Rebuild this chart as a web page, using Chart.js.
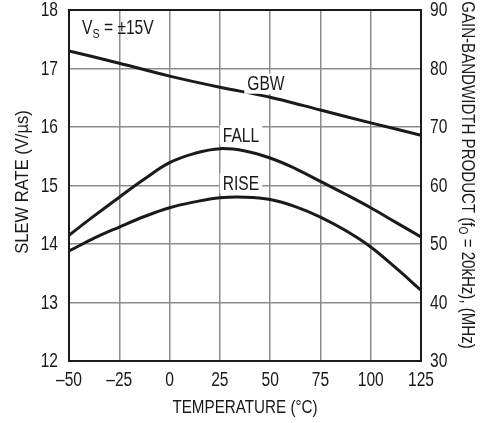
<!DOCTYPE html>
<html>
<head>
<meta charset="utf-8">
<script src="https://cdn.jsdelivr.net/npm/chart.js@4/dist/chart.umd.min.js"></script>
<style>
  html, body { margin: 0; padding: 0; background: #fff; }
  #wrap { width: 492px; height: 423px; }
</style>
</head>
<body>
<div id="wrap"><canvas id="slewChart" width="492" height="423"></canvas></div>
<script>
// temperature (°C)
const temps = [-50, -37.5, -25, -12.5, 0, 12.5, 25, 37.5, 50, 62.5, 75, 87.5, 100, 112.5, 125];
// slew rate, V/µs
const fallRate = [14.15, 14.48, 14.80, 15.11, 15.39, 15.55, 15.63, 15.59, 15.47, 15.29, 15.07, 14.85, 14.62, 14.37, 14.12];
const riseRate = [13.88, 14.10, 14.29, 14.47, 14.62, 14.72, 14.79, 14.80, 14.76, 14.64, 14.46, 14.23, 13.95, 13.59, 13.21];
// gain-bandwidth product, MHz
const gbwTemps = [-50, -25, 0, 25, 50, 75, 100, 125];
const gbw = [83.0, 80.9, 78.7, 76.8, 75.1, 72.9, 70.7, 68.6];

const xTicks = [-50, -25, 0, 25, 50, 75, 100, 125];
const slewTicks = [12, 13, 14, 15, 16, 17, 18];
const gbwTicks = [30, 40, 50, 60, 70, 80, 90];

const FONT = '"Liberation Sans", Arial, sans-serif';
const INK = '#1a1a1a';
const SQUEEZE = 0.8;   // narrow the font like the condensed face of the original

function pts(xs, ys) {
    return xs.map((x, i) => ({ x: x, y: ys[i] }));
}

// condensed text helper: pieces = [[text, size, dy], ...]
function narrowText(ctx, pieces, x, y, align, angle, squeeze) {
    const sq = squeeze || SQUEEZE;
    ctx.save();
    ctx.translate(x, y);
    if (angle) ctx.rotate(angle);
    ctx.scale(sq, 1);
    let total = 0;
    pieces.forEach(p => { ctx.font = p[1] + 'px ' + FONT; total += ctx.measureText(p[0]).width; });
    let cx = align === 'center' ? -total / 2 : align === 'right' ? -total : 0;
    ctx.textAlign = 'left';
    ctx.textBaseline = 'middle';
    pieces.forEach(p => {
        ctx.font = p[1] + 'px ' + FONT;
        ctx.fillText(p[0], cx, p[2] || 0);
        cx += ctx.measureText(p[0]).width;
    });
    ctx.restore();
    return total * sq;
}

const textLayer = {
    id: 'textLayer',
    afterDraw(chart) {
        const ctx = chart.ctx;
        const xs = chart.scales.x, ys = chart.scales.y, ys2 = chart.scales.y2;
        const area = chart.chartArea;
        ctx.save();
        ctx.fillStyle = INK;

        // tick labels from the scales
        xs.ticks.forEach(t => {
            const s = t.value < 0 ? '\u2013' + Math.abs(t.value) : String(t.value);
            narrowText(ctx, [[s, 19.5]], xs.getPixelForValue(t.value), area.bottom + 20, 'center');
        });
        ys.ticks.forEach(t => {
            narrowText(ctx, [[String(t.value), 19.5]], area.left - 11, ys.getPixelForValue(t.value) + 1, 'right');
        });
        ys2.ticks.forEach(t => {
            narrowText(ctx, [[String(t.value), 19.5]], area.right + 9, ys2.getPixelForValue(t.value) + 1, 'left');
        });

        // axis titles
        narrowText(ctx, [['TEMPERATURE (\u00b0C)', 19]], (area.left + area.right) / 2, 408, 'center');
        narrowText(ctx, [['SLEW RATE (V/\u00b5s)', 18]], 23, 182, 'center', -Math.PI / 2, 0.92);
        narrowText(ctx, [['GAIN-BANDWIDTH PRODUCT (f', 18.5], ['O', 12.5, 5], [' = 20kHz), (MHz)', 18.5]],
            467, 175, 'center', Math.PI / 2, 0.815);

        // curve labels with white boxes that break the grid
        function label(text, t, v) {
            const px = xs.getPixelForValue(t), py = ys.getPixelForValue(v);
            ctx.font = '19.5px ' + FONT;
            const w = ctx.measureText(text).width * SQUEEZE;
            ctx.fillStyle = '#fff';
            ctx.fillRect(px - w / 2 - 3, py - 10, w + 6, 20);
            ctx.fillStyle = INK;
            narrowText(ctx, [[text, 19.5]], px, py + 1, 'center');
        }
        label('GBW', 47.9, 16.74);
        label('FALL', 35.5, 15.86);
        label('RISE', 35.5, 15.04);

        // V_S = ±15V
        narrowText(ctx, [['V', 19.5], ['S', 13.5, 5], [' = \u00b115V', 19.5]], 82, 29, 'left');
        ctx.restore();
    }
};

// outer frame drawn over the grid
const frame = {
    id: 'frame',
    beforeDatasetsDraw(chart) {
        const a = chart.chartArea, ctx = chart.ctx;
        ctx.save();
        ctx.strokeStyle = INK;
        ctx.lineWidth = 2;
        ctx.strokeRect(a.left, a.top, a.right - a.left, a.bottom - a.top);
        ctx.restore();
    }
};

new Chart(document.getElementById('slewChart'), {
    type: 'line',
    data: {
        datasets: [{
            label: 'FALL',
            data: pts(temps, fallRate),
            yAxisID: 'y',
            borderColor: INK,
            borderWidth: 3,
            pointRadius: 0,
            tension: 0.4
        }, {
            label: 'RISE',
            data: pts(temps, riseRate),
            yAxisID: 'y',
            borderColor: INK,
            borderWidth: 3,
            pointRadius: 0,
            tension: 0.4
        }, {
            label: 'GBW',
            data: pts(gbwTemps, gbw),
            yAxisID: 'y2',
            borderColor: INK,
            borderWidth: 3,
            pointRadius: 0,
            tension: 0.3
        }]
    },
    options: {
        responsive: false,
        animation: false,
        layout: { padding: { top: 10, right: 0, bottom: 0, left: 0 } },
        plugins: { legend: { display: false }, tooltip: { enabled: false } },
        scales: {
            x: {
                type: 'linear',
                min: -50,
                max: 125,
                afterBuildTicks: s => { s.ticks = xTicks.map(v => ({ value: v })); },
                afterFit: s => { s.height = 62; },
                ticks: { display: false },
                grid: { color: '#8c8c8c', lineWidth: 1.5, drawTicks: false },
                border: { display: false }
            },
            y: {
                position: 'left',
                min: 12,
                max: 18,
                afterBuildTicks: s => { s.ticks = slewTicks.map(v => ({ value: v })); },
                afterFit: s => { s.width = 69; },
                ticks: { display: false },
                grid: { color: '#8c8c8c', lineWidth: 1.5, drawTicks: false },
                border: { display: false }
            },
            y2: {
                position: 'right',
                min: 30,
                max: 90,
                afterBuildTicks: s => { s.ticks = gbwTicks.map(v => ({ value: v })); },
                afterFit: s => { s.width = 71; },
                ticks: { display: false },
                grid: { display: false, drawTicks: false },
                border: { display: false }
            }
        }
    },
    plugins: [frame, textLayer]
});
</script>
</body>
</html>
